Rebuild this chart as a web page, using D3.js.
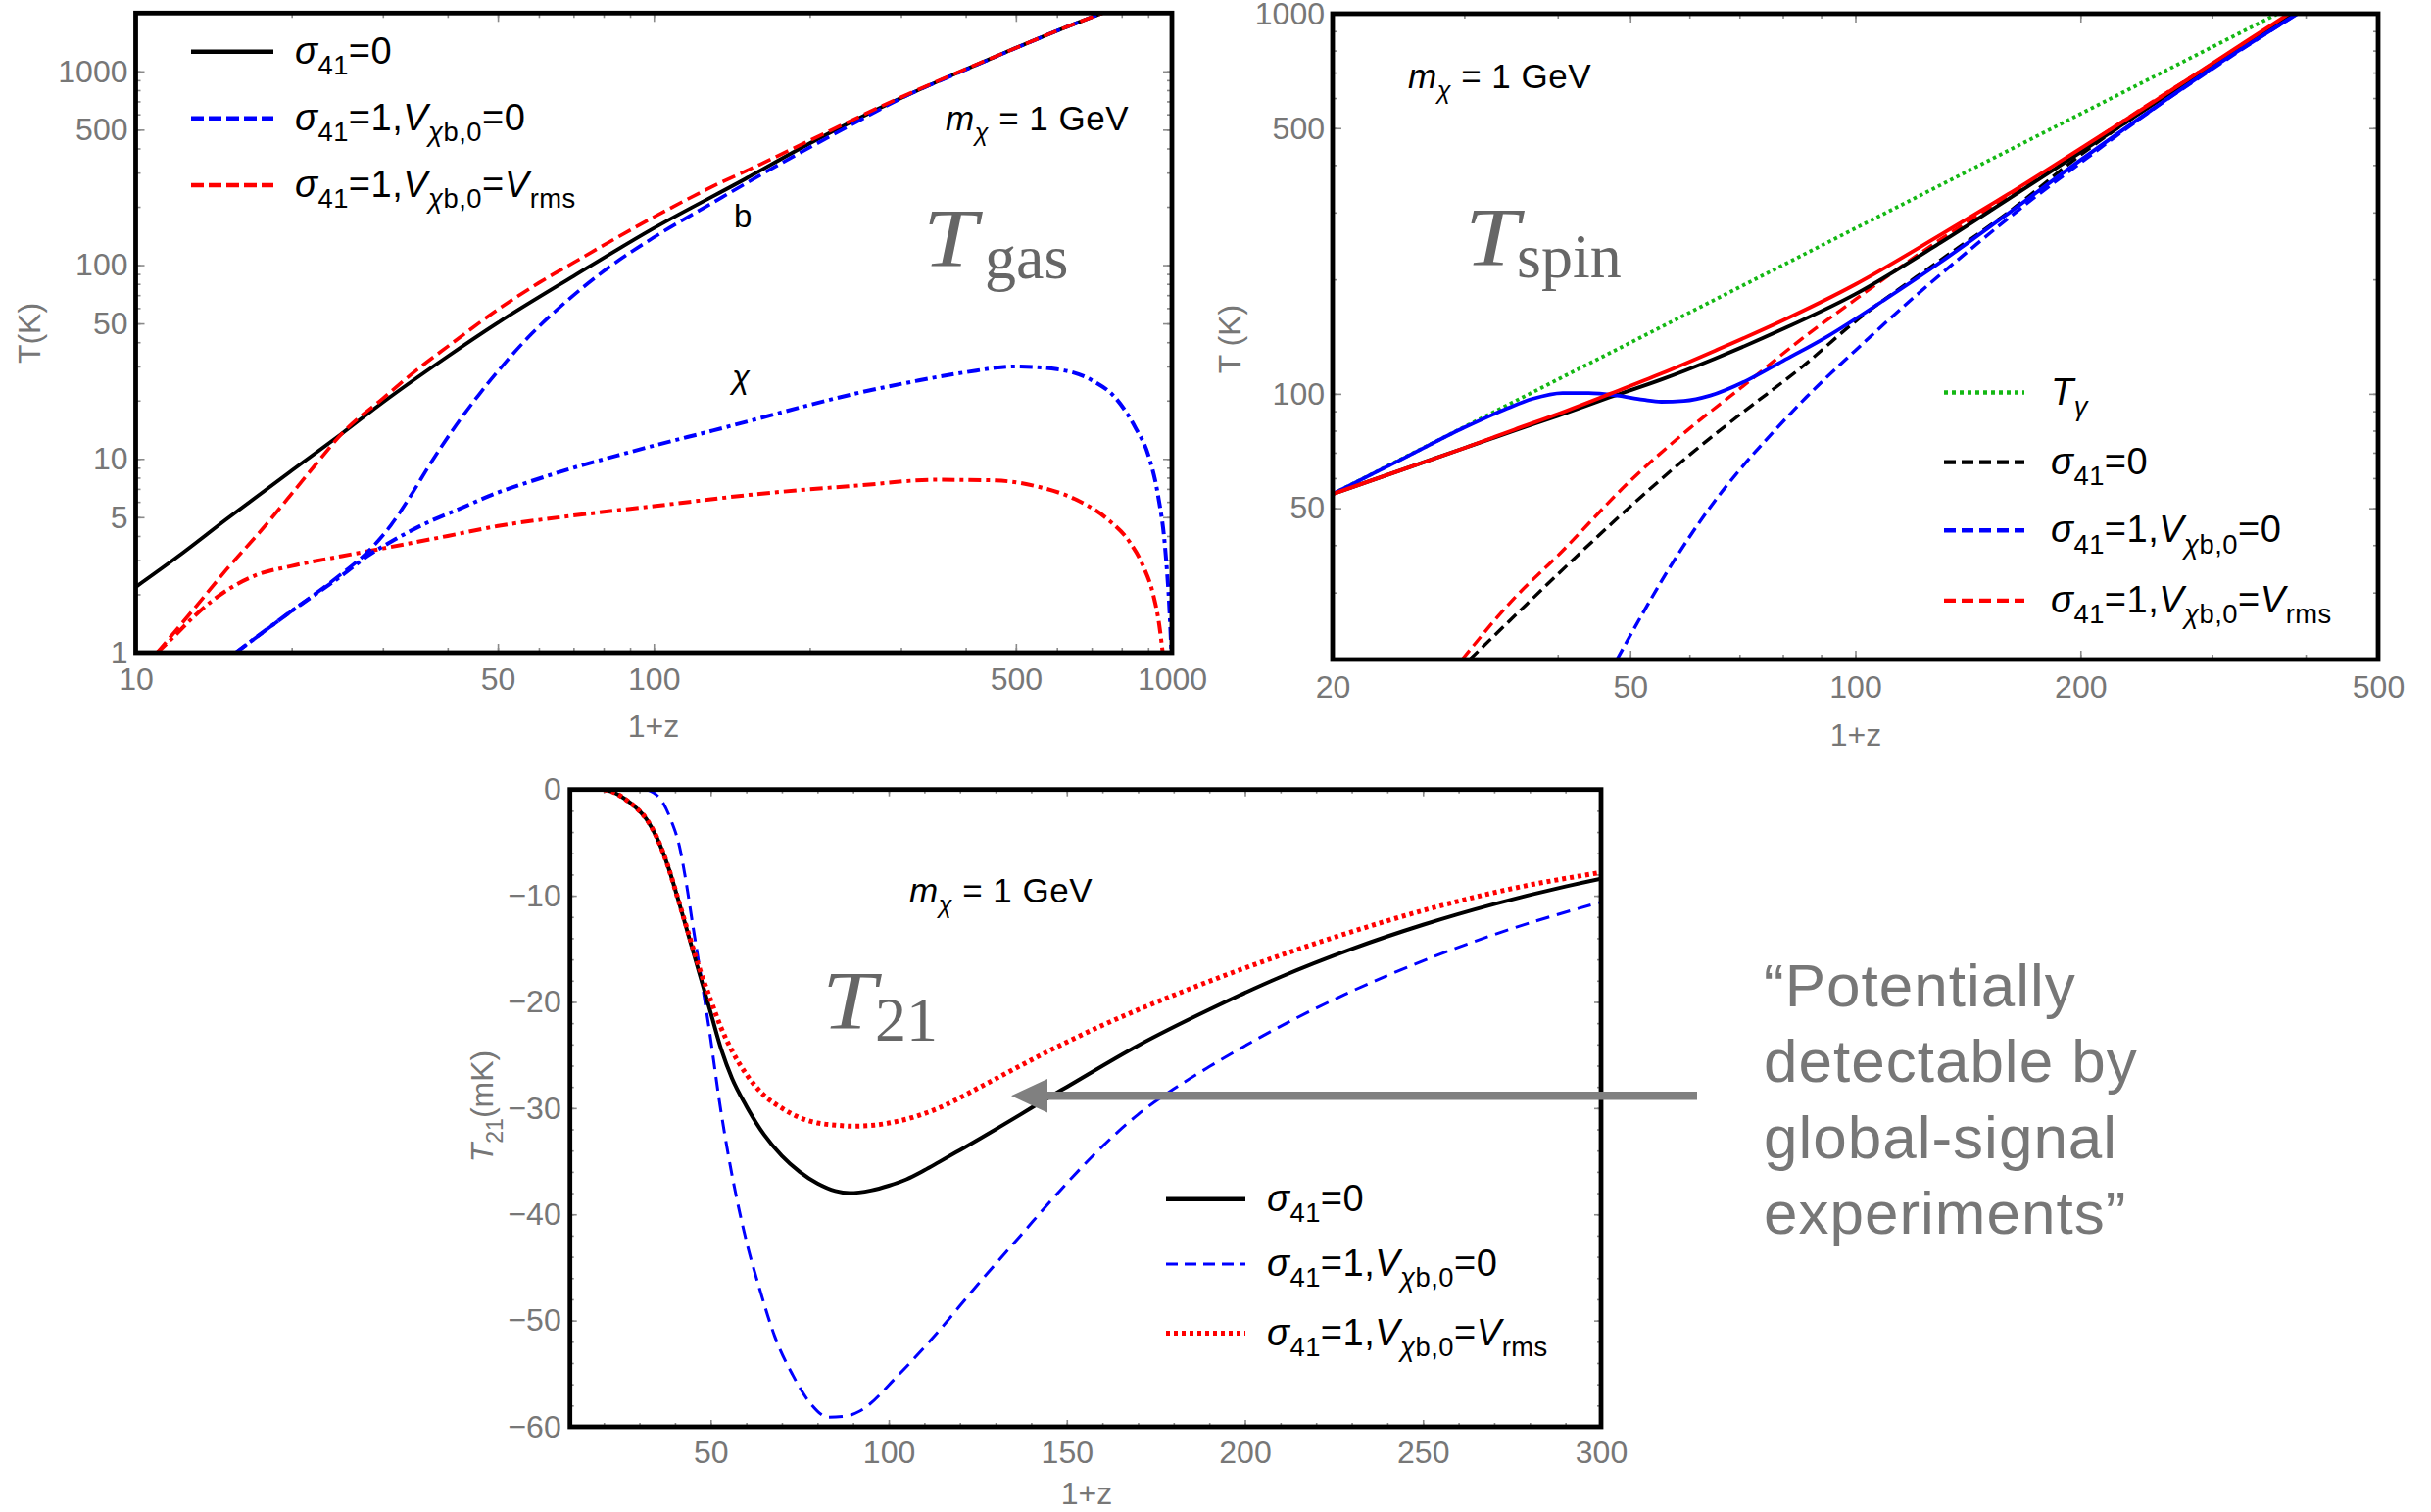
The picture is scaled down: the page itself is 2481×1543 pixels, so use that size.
<!DOCTYPE html>
<html><head><meta charset="utf-8">
<script src="https://cdn.jsdelivr.net/npm/d3@7"></script>
<style>body{margin:0;background:#fff}</style>
</head><body><div id="chart"></div>
<script>
// ================= DATA =================
// Panel 1: T_gas  (x = 1+z, y = T in K)
const gasXTicks = [10, 50, 100, 500, 1000];
const gasYTicks = [1, 5, 10, 50, 100, 500, 1000];
const gasBaryonSigma0 = [[10,2.18],[12,3.1],[15,4.9],[20,8.7],[25,13.5],[30,19.6],[40,33.8],[50,50.4],[70,87.7],[100,155],[150,278],[200,425],[300,728],[400,1025],[500,1322],[600,1619],[750,2044]];
const gasBaryonV0 = [[15.6,1],[20,1.64],[25,2.56],[28,3.3],[31,4.5],[34,6.5],[37,9.4],[41,14.2],[46,21.5],[52,32],[58,44],[66,61],[80,93],[100,139],[130,210],[160,290],[200,405],[250,560],[300,725],[400,1020],[500,1320],[600,1619],[750,2044]];
const gasBaryonVrms = [[11,1],[13,1.7],[15,2.7],[17.5,4.3],[20,6.6],[22.5,9.7],[25,13.5],[30,20.5],[35,29],[40,38],[50,59],[60,81],[70,103],[100,177],[130,255],[160,330],[200,440],[300,735],[400,1028],[500,1322],[600,1619],[750,2044]];
const gasChiV0 = [[15.6,1],[20,1.64],[25,2.5],[28,3.15],[32,3.9],[36,4.6],[42,5.5],[50,6.7],[60,7.9],[70,9],[85,10.4],[100,11.7],[130,14],[160,16.2],[200,19],[250,22],[320,25.2],[400,28],[500,30],[600,29],[700,25.5],[780,20.5],[850,14.5],[900,10.5],[940,6.5],[970,3.5],[990,1.6],[998,1]];
const gasChiVrms = [[11,1],[12,1.25],[13,1.55],[15,2.1],[17,2.5],[20,2.8],[25,3.15],[30,3.45],[40,4.0],[50,4.5],[70,5.1],[100,5.7],[160,6.6],[250,7.3],[350,7.8],[450,7.75],[550,7.2],[650,6.2],[750,4.9],[830,3.7],[880,2.8],[920,2.0],[945,1.4],[960,1]];

// Panel 2: T_spin (x = 1+z, y = T in K)
const spinXTicks = [20, 50, 100, 200, 500];
const spinYTicks = [50, 100, 500, 1000];
const spinTgamma = [[20,54.5],[34,92.7],[100,272.5],[200,545],[367,1000]];
const spinSolidSigma0 = [[20,54.5],[25,63.5],[30,72],[35,80],[40,87.5],[47,98],[55,109],[65,124],[80,148],[100,183],[130,250],[160,325],[200,432],[250,577],[300,733],[385,1005]];
const spinSolidV0 = [[20,54.5],[25,68],[30,81.5],[34,91],[37,97],[40.6,100.5],[44,100.5],[48,99],[52,96.5],[55,95.3],[59,95.8],[64,99],[72,109],[80,122],[92,142],[110,178],[130,222],[160,298],[200,412],[250,562],[300,720],[390,1000]];
const spinSolidVrms = [[20,54.5],[25,63.5],[30,72],[35,80.5],[40,88.5],[47,100],[55,113],[65,130],[80,156],[100,194],[130,262],[160,335],[200,442],[250,585],[300,740],[380,1000]];
const spinDashSigma0 = [[30.5,20],[35,26],[40,33.5],[50,50.5],[60,69],[70,88],[85,118],[100,155],[130,225],[160,300],[200,425],[250,578],[300,728],[385,1000]];
const spinDashV0 = [[48,20],[52,26.5],[56,34],[60,42],[65,52.5],[70,63],[78,80],[86,98],[100,130],[120,180],[140,233],[170,318],[200,405],[250,560],[300,715],[390,1000]];
const spinDashVrms = [[29.8,20],[35,29],[40,37.5],[50,59],[60,81],[70,103],[85,140],[100,177],[130,255],[160,330],[200,440],[250,588],[300,738],[385,1000]];

// Panel 3: T_21 (x = 1+z, y = T21 in mK)
const t21XTicks = [50, 100, 150, 200, 250, 300];
const t21YTicks = [0, -10, -20, -30, -40, -50, -60];
const t21Sigma0 = [[20,0],[23,-0.3],[26,-0.9],[29,-1.7],[32,-2.8],[35,-4.6],[38,-7.2],[41,-10.5],[44,-14],[47,-17.5],[50,-21],[53,-24.5],[56,-27.2],[60,-29.8],[65,-32.5],[70,-34.5],[75,-36],[80,-37.1],[85,-37.8],[89,-38],[95,-37.75],[100,-37.3],[105,-36.7],[110,-35.85],[114,-35.1],[120,-33.95],[125.7,-32.85],[131,-31.8],[137,-30.6],[144.4,-29.1],[150,-28],[170,-24.1],[190,-20.72],[210,-17.65],[230,-15.01],[250,-12.74],[270,-10.79],[290,-9.13],[300,-8.4]];
const t21V0 = [[32,0],[34,-0.3],[36.7,-1.3],[39,-3],[41.2,-5.3],[43,-8.5],[45,-12.8],[47.8,-18.7],[50,-23.5],[52.3,-29],[55,-34.5],[57,-38],[60,-42.5],[64,-47.3],[68,-51.5],[73,-55.1],[78,-57.8],[83,-59.1],[88,-59],[92,-58.5],[102.5,-55.2],[114,-51],[125,-46.6],[137,-42],[148,-37.8],[160,-33.6],[170,-30.6],[180,-28.2],[190,-26.1],[205,-23.2],[228,-19.3],[251,-16],[274,-13.2],[300,-10.6]];
const t21Vrms = [[20,0],[23,-0.3],[26,-0.9],[29,-1.7],[32,-2.8],[35,-4.6],[38,-7.2],[41,-10.5],[44,-13.8],[47,-17],[50,-19.8],[53,-22.5],[56,-24.6],[60,-26.8],[65,-28.8],[70,-30],[75,-30.9],[80,-31.4],[85,-31.6],[90,-31.7],[96,-31.6],[103,-31.2],[114,-30],[125.7,-28],[137,-26],[148,-24.1],[160,-22.2],[182,-19.1],[205,-16.2],[228,-13.6],[251,-11.3],[274,-9.4],[300,-7.8]];

// Labels
const lblSigma0 = [{t:"σ",i:1},{t:"41",s:1},{t:"=0"}];
const lblV0 = [{t:"σ",i:1},{t:"41",s:1},{t:"=1,"},{t:"V",i:1},{t:"χ",s:1,i:1},{t:"b,0",s:1},{t:"=0"}];
const lblVrms = [{t:"σ",i:1},{t:"41",s:1},{t:"=1,"},{t:"V",i:1},{t:"χ",s:1,i:1},{t:"b,0",s:1},{t:"="},{t:"V",i:1},{t:"rms",s:1}];
const lblTgamma = [{t:"T",i:1},{t:"γ",s:1,i:1}];
const lblMass = [{t:"m",i:1},{t:"χ",s:1,i:1},{t:" = 1 GeV"}];
const annotationLines = ["“Potentially", "detectable by", "global-signal", "experiments”"];

// ================= DRAWING =================
const W = 2481, H = 1543;
const SANS = "'Liberation Sans', Arial, Helvetica, sans-serif";
const SERIF = "'Liberation Serif', 'DejaVu Serif', serif";
const svg = d3.select("#chart").append("svg").attr("width", W).attr("height", H)
  .style("background", "#fff").attr("font-family", SANS);
svg.append("rect").attr("width", W).attr("height", H).attr("fill", "#fff");

function rich(textSel, parts, size) {
  let shift = 0;
  parts.forEach(p => {
    const ts = textSel.append("tspan").text(p.t);
    const target = p.s ? size * 0.3 : 0;
    if (target !== shift) { ts.attr("dy", (target - shift).toFixed(2)); shift = target; }
    ts.attr("font-size", p.s ? size * 0.72 : size);
    if (p.i) ts.attr("font-style", "italic");
  });
}

function makePanel(cfg) {
  const w = cfg.x1 - cfg.x0, h = cfg.y1 - cfg.y0;
  const g = svg.append("g").attr("transform", `translate(${cfg.x0},${cfg.y0})`);
  const x = cfg.xScale.range([0, w]);
  const y = cfg.yScale.range([h, 0]);
  const MAJ = cfg.maj, MIN = cfg.min;
  const tickStyle = sel => {
    sel.selectAll(".domain").remove();
    sel.selectAll(".tick line").attr("stroke", "#8a8a8a").attr("stroke-width", 1.6);
    sel.selectAll(".tick text").attr("fill", "#777").attr("font-size", 32).attr("font-family", SANS);
    sel.attr("font-size", 32).attr("font-family", SANS);
  };
  g.append("g").attr("transform", `translate(0,${h})`).call(d3.axisBottom(x).tickValues(cfg.xMinor).tickSize(-MIN).tickFormat("")).call(tickStyle);
  g.append("g").call(d3.axisTop(x).tickValues(cfg.xMinor).tickSize(-MIN).tickFormat("")).call(tickStyle);
  g.append("g").call(d3.axisLeft(y).tickValues(cfg.yMinor).tickSize(-MIN).tickFormat("")).call(tickStyle);
  g.append("g").attr("transform", `translate(${w},0)`).call(d3.axisRight(y).tickValues(cfg.yMinor).tickSize(-MIN).tickFormat("")).call(tickStyle);
  g.append("g").attr("transform", `translate(0,${h})`).call(d3.axisBottom(x).tickValues(cfg.xTicks).tickSize(-MAJ).tickPadding(cfg.xPad).tickFormat(cfg.xFmt)).call(tickStyle);
  g.append("g").call(d3.axisTop(x).tickValues(cfg.xTicks).tickSize(-MAJ).tickFormat("")).call(tickStyle);
  g.append("g").call(d3.axisLeft(y).tickValues(cfg.yTicks).tickSize(-MAJ).tickPadding(cfg.yPad).tickFormat(cfg.yFmt)).call(tickStyle);
  g.append("g").attr("transform", `translate(${w},0)`).call(d3.axisRight(y).tickValues(cfg.yTicks).tickSize(-MAJ).tickFormat("")).call(tickStyle);

  const clipId = "clip" + cfg.id;
  g.append("clipPath").attr("id", clipId).append("rect").attr("width", w).attr("height", h);
  const plot = g.append("g").attr("clip-path", `url(#${clipId})`);
  cfg.series.forEach(s => {
    const line = d3.line().x(d => x(d[0])).y(d => y(d[1])).curve(s.linear ? d3.curveLinear : d3.curveMonotoneX);
    plot.append("path").datum(s.data).attr("d", line).attr("fill", "none")
      .attr("stroke", s.color).attr("stroke-width", s.width).attr("stroke-dasharray", s.dash || null)
      .attr("stroke-linecap", s.cap || "butt").attr("stroke-linejoin", "round");
  });
  g.append("rect").attr("width", w).attr("height", h).attr("fill", "none").attr("stroke", "#000").attr("stroke-width", 4.8);
  return g;
}

const fmtPlain = d => String(d);
function logMinors(scale, lo, hi) {
  return scale.copy().domain([lo, hi]).ticks().filter(v => v >= lo && v <= hi);
}

// ---- Panel 1 ----
const p1x = d3.scaleLog().domain([10, 1000]);
const p1y = d3.scaleLog().domain([1, 2000]);
const blue = "#0000ff", red = "#ff0000", green = "#14b814";
makePanel({
  id: 1, x0: 138.5, x1: 1196, y0: 13.3, y1: 666,
  xScale: p1x, yScale: p1y, maj: 9, min: 5,
  xTicks: gasXTicks, yTicks: gasYTicks,
  xMinor: logMinors(p1x, 10, 1000), yMinor: logMinors(p1y, 1, 2000),
  xPad: 15, yPad: 8, xFmt: fmtPlain, yFmt: fmtPlain,
  series: [
    {data: gasChiVrms, color: red, width: 4, dash: "13,5,4,5"},
    {data: gasChiV0, color: blue, width: 4, dash: "13,5,4,5"},
    {data: gasBaryonSigma0, color: "#000", width: 3.8},
    {data: gasBaryonV0, color: blue, width: 3.6, dash: "14,6"},
    {data: gasBaryonVrms, color: red, width: 3.6, dash: "14,6"}
  ]
});

// ---- Panel 2 ----
const p2x = d3.scaleLog().domain([20, 500]);
const p2y = d3.scaleLog().domain([20, 1000]);
makePanel({
  id: 2, x0: 1360, x1: 2427, y0: 14, y1: 673,
  xScale: p2x, yScale: p2y, maj: 9, min: 5,
  xTicks: spinXTicks, yTicks: spinYTicks,
  xMinor: logMinors(p2x, 20, 500), yMinor: logMinors(p2y, 20, 1000),
  xPad: 16, yPad: 8, xFmt: fmtPlain, yFmt: fmtPlain,
  series: [
    {data: spinTgamma, color: green, width: 3.8, dash: "3.5,3.5", linear: true},
    {data: spinDashSigma0, color: "#000", width: 3.4, dash: "12,6"},
    {data: spinDashVrms, color: red, width: 3.4, dash: "12,6"},
    {data: spinDashV0, color: blue, width: 3.4, dash: "12,6"},
    {data: spinSolidSigma0, color: "#000", width: 3.8},
    {data: spinSolidV0, color: blue, width: 3.8},
    {data: spinSolidVrms, color: red, width: 3.8}
  ]
});

// ---- Panel 3 ----
const p3x = d3.scaleLinear().domain([10.5, 300]);
const p3y = d3.scaleLinear().domain([-60, 0]);
makePanel({
  id: 3, x0: 581.7, x1: 1634, y0: 805.7, y1: 1456,
  xScale: p3x, yScale: p3y, maj: 7, min: 4,
  xTicks: t21XTicks, yTicks: t21YTicks,
  xMinor: d3.range(20, 301, 10), yMinor: d3.range(-60, 0.1, 2),
  xPad: 14, yPad: 9, xFmt: fmtPlain, yFmt: d => d === 0 ? "0" : "−" + Math.abs(d),
  series: [
    {data: t21V0, color: blue, width: 3, dash: "14,8"},
    {data: t21Sigma0, color: "#000", width: 4},
    {data: t21Vrms, color: red, width: 5, dash: "4,4"}
  ]
});

// ---- Legends ----
function legendEntry(x0, x1, y, tx, style, parts, size) {
  svg.append("line").attr("x1", x0).attr("x2", x1).attr("y1", y).attr("y2", y)
    .attr("stroke", style.color).attr("stroke-width", style.width).attr("stroke-dasharray", style.dash || null);
  const t = svg.append("text").attr("x", tx).attr("y", y + 12).attr("fill", "#000").attr("font-size", size).attr("letter-spacing", 0.5);
  rich(t, parts, size);
}
const LS = 38;
legendEntry(195, 279, 52.7, 301, {color: "#000", width: 4.4}, lblSigma0, LS);
legendEntry(195, 279, 120.7, 301, {color: blue, width: 4.4, dash: "13,5"}, lblV0, LS);
legendEntry(195, 279, 189, 301, {color: red, width: 4.4, dash: "13,5"}, lblVrms, LS);

legendEntry(1984, 2066, 400.5, 2093, {color: green, width: 4.4, dash: "4,4"}, lblTgamma, LS);
legendEntry(1984, 2066, 471.6, 2093, {color: "#000", width: 4.4, dash: "12,6"}, lblSigma0, LS);
legendEntry(1984, 2066, 541.3, 2093, {color: blue, width: 4.4, dash: "12,6"}, lblV0, LS);
legendEntry(1984, 2066, 612.9, 2093, {color: red, width: 4.4, dash: "12,6"}, lblVrms, LS);

legendEntry(1190, 1271, 1223.8, 1293, {color: "#000", width: 4.4}, lblSigma0, LS);
legendEntry(1190, 1271, 1290, 1293, {color: blue, width: 3.2, dash: "12,7"}, lblV0, LS);
legendEntry(1190, 1271, 1360.5, 1293, {color: red, width: 5, dash: "4,4"}, lblVrms, LS);

// ---- In-plot labels ----
function mass(x, y) { const t = svg.append("text").attr("x", x).attr("y", y).attr("fill", "#000").attr("letter-spacing", 0.5); rich(t, lblMass, 35); }
mass(965, 133); mass(1437, 90); mass(928, 921);

function bigLabel(xT, y, sub, xSub) {
  svg.append("text").attr("transform", `translate(${xT},${y}) scale(1.18,1)`).attr("fill", "#666")
    .attr("font-family", SERIF).attr("font-style", "italic").attr("font-size", 84).text("T");
  svg.append("text").attr("x", xSub).attr("y", y + 12).attr("fill", "#666")
    .attr("font-family", SERIF).attr("font-size", 64).text(sub);
}
bigLabel(942, 272, "gas", 1005);
bigLabel(1495, 271, "spin", 1548);
bigLabel(839, 1050, "21", 893);

svg.append("text").attr("x", 749).attr("y", 232).attr("font-size", 33).text("b");
svg.append("text").attr("x", 747).attr("y", 396).attr("font-size", 33).attr("font-style", "italic").text("χ");

// ---- Axis labels ----
function yLabel(x, y, parts) {
  const t = svg.append("text").attr("transform", `translate(${x},${y}) rotate(-90)`).attr("text-anchor", "middle").attr("fill", "#777");
  rich(t, parts, 32);
}
yLabel(41, 340, [{t:"T(K)"}]);
yLabel(1266, 346, [{t:"T (K)"}]);
yLabel(503, 1129, [{t:"T",i:1},{t:"21",s:1},{t:"(mK)"}]);
function xLabel(x, y) { svg.append("text").attr("x", x).attr("y", y).attr("text-anchor", "middle").attr("fill", "#777").attr("font-size", 32).text("1+z"); }
xLabel(667, 752); xLabel(1894, 761); xLabel(1109, 1535);

// ---- Annotation arrow + text ----
svg.append("line").attr("x1", 1732).attr("x2", 1064).attr("y1", 1118.3).attr("y2", 1118.3).attr("stroke", "#808080").attr("stroke-width", 8.5);
svg.append("path").attr("d", "M1032,1118.3 L1069,1101 L1069,1135.6 Z").attr("fill", "#808080");
const ann = svg.append("text").attr("fill", "#777").attr("font-size", 62).attr("letter-spacing", 1);
annotationLines.forEach((s, i) => ann.append("tspan").attr("x", 1800).attr("y", 1027 + i * 77.4).text(s));
</script>
</body></html>
